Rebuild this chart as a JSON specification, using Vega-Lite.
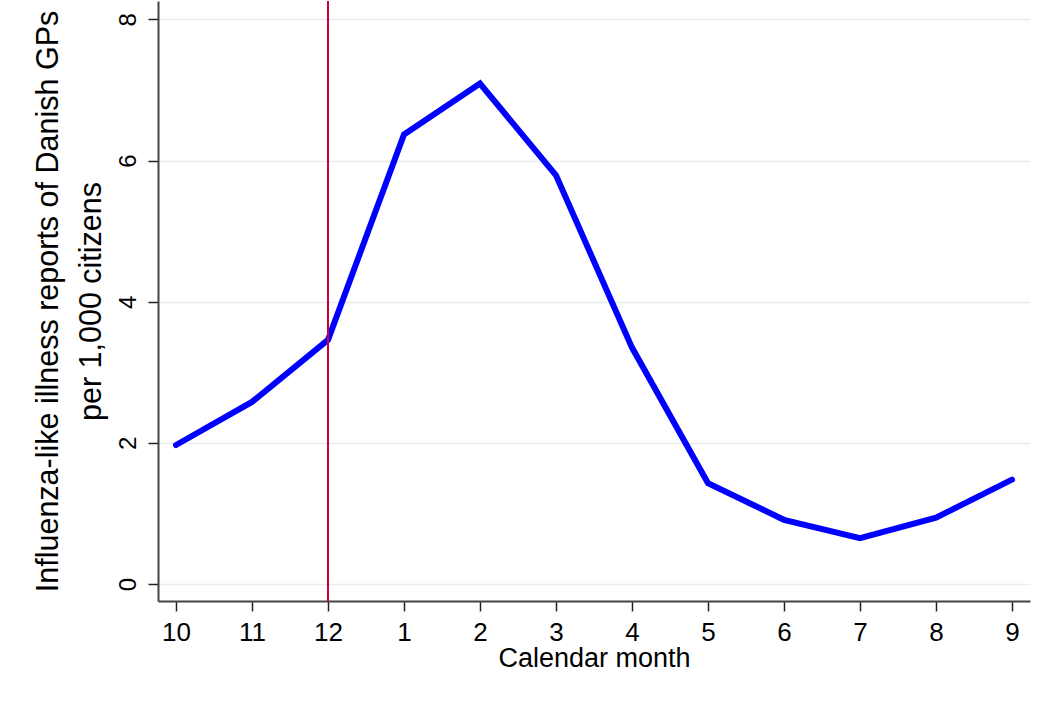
{
  "$schema": "https://vega.github.io/schema/vega-lite/v6.json",
  "width": 872,
  "height": 600,
  "autosize": {"type": "none"},
  "padding": {"left": 158, "top": 1, "right": 23, "bottom": 103},
  "background": "white",
  "config": {
    "view": {"stroke": null},
    "font": "Liberation Sans",
    "axis": {
      "labelFont": "Liberation Sans",
      "titleFont": "Liberation Sans",
      "labelFontSize": 26,
      "titleFontSize": 26,
      "titleFontWeight": "normal",
      "labelColor": "black",
      "titleColor": "black",
      "domainColor": "#444444",
      "domainWidth": 2,
      "tickColor": "#222222",
      "tickWidth": 1.5,
      "tickSize": 10,
      "gridColor": "#e6eef0",
      "gridWidth": 1.5
    }
  },
  "datasets": {
    "flu": [
      {"month": "10", "ili": 1.97},
      {"month": "11", "ili": 2.58},
      {"month": "12", "ili": 3.46},
      {"month": "1", "ili": 6.37},
      {"month": "2", "ili": 7.09},
      {"month": "3", "ili": 5.79},
      {"month": "4", "ili": 3.35},
      {"month": "5", "ili": 1.43},
      {"month": "6", "ili": 0.91},
      {"month": "7", "ili": 0.65},
      {"month": "8", "ili": 0.94},
      {"month": "9", "ili": 1.48}
    ],
    "marker": [{"month": "12"}]
  },
  "layer": [
    {
      "data": {"name": "flu"},
      "mark": {"type": "line", "color": "#0000ff", "strokeWidth": 6, "strokeJoin": "miter", "strokeCap": "round"},
      "encoding": {
        "x": {
          "field": "month",
          "type": "ordinal",
          "sort": ["10", "11", "12", "1", "2", "3", "4", "5", "6", "7", "8", "9"],
          "scale": {"type": "point", "padding": 0.237},
          "axis": {
            "title": "Calendar month",
            "titleFontSize": 27,
            "labelAngle": 0,
            "labelPadding": 8,
            "titlePadding": 0,
            "grid": false
          }
        },
        "y": {
          "field": "ili",
          "type": "quantitative",
          "scale": {"domain": [-0.24, 8.26], "nice": false, "zero": false},
          "axis": {
            "values": [0, 2, 4, 6, 8],
            "title": ["Influenza-like illness reports of Danish GPs", "per 1,000 citizens"],
            "titleFontSize": 30.5,
            "titleLineHeight": 43,
            "labelFontSize": 24,
            "labelAngle": -90,
            "labelAlign": "center",
            "labelBaseline": "alphabetic",
            "labelPadding": 13,
            "titlePadding": 10,
            "grid": true
          }
        }
      }
    },
    {
      "data": {"name": "marker"},
      "mark": {"type": "rule", "color": "#cc0033", "strokeWidth": 2},
      "encoding": {
        "x": {"field": "month", "type": "ordinal", "sort": ["10", "11", "12", "1", "2", "3", "4", "5", "6", "7", "8", "9"]}
      }
    }
  ]
}
